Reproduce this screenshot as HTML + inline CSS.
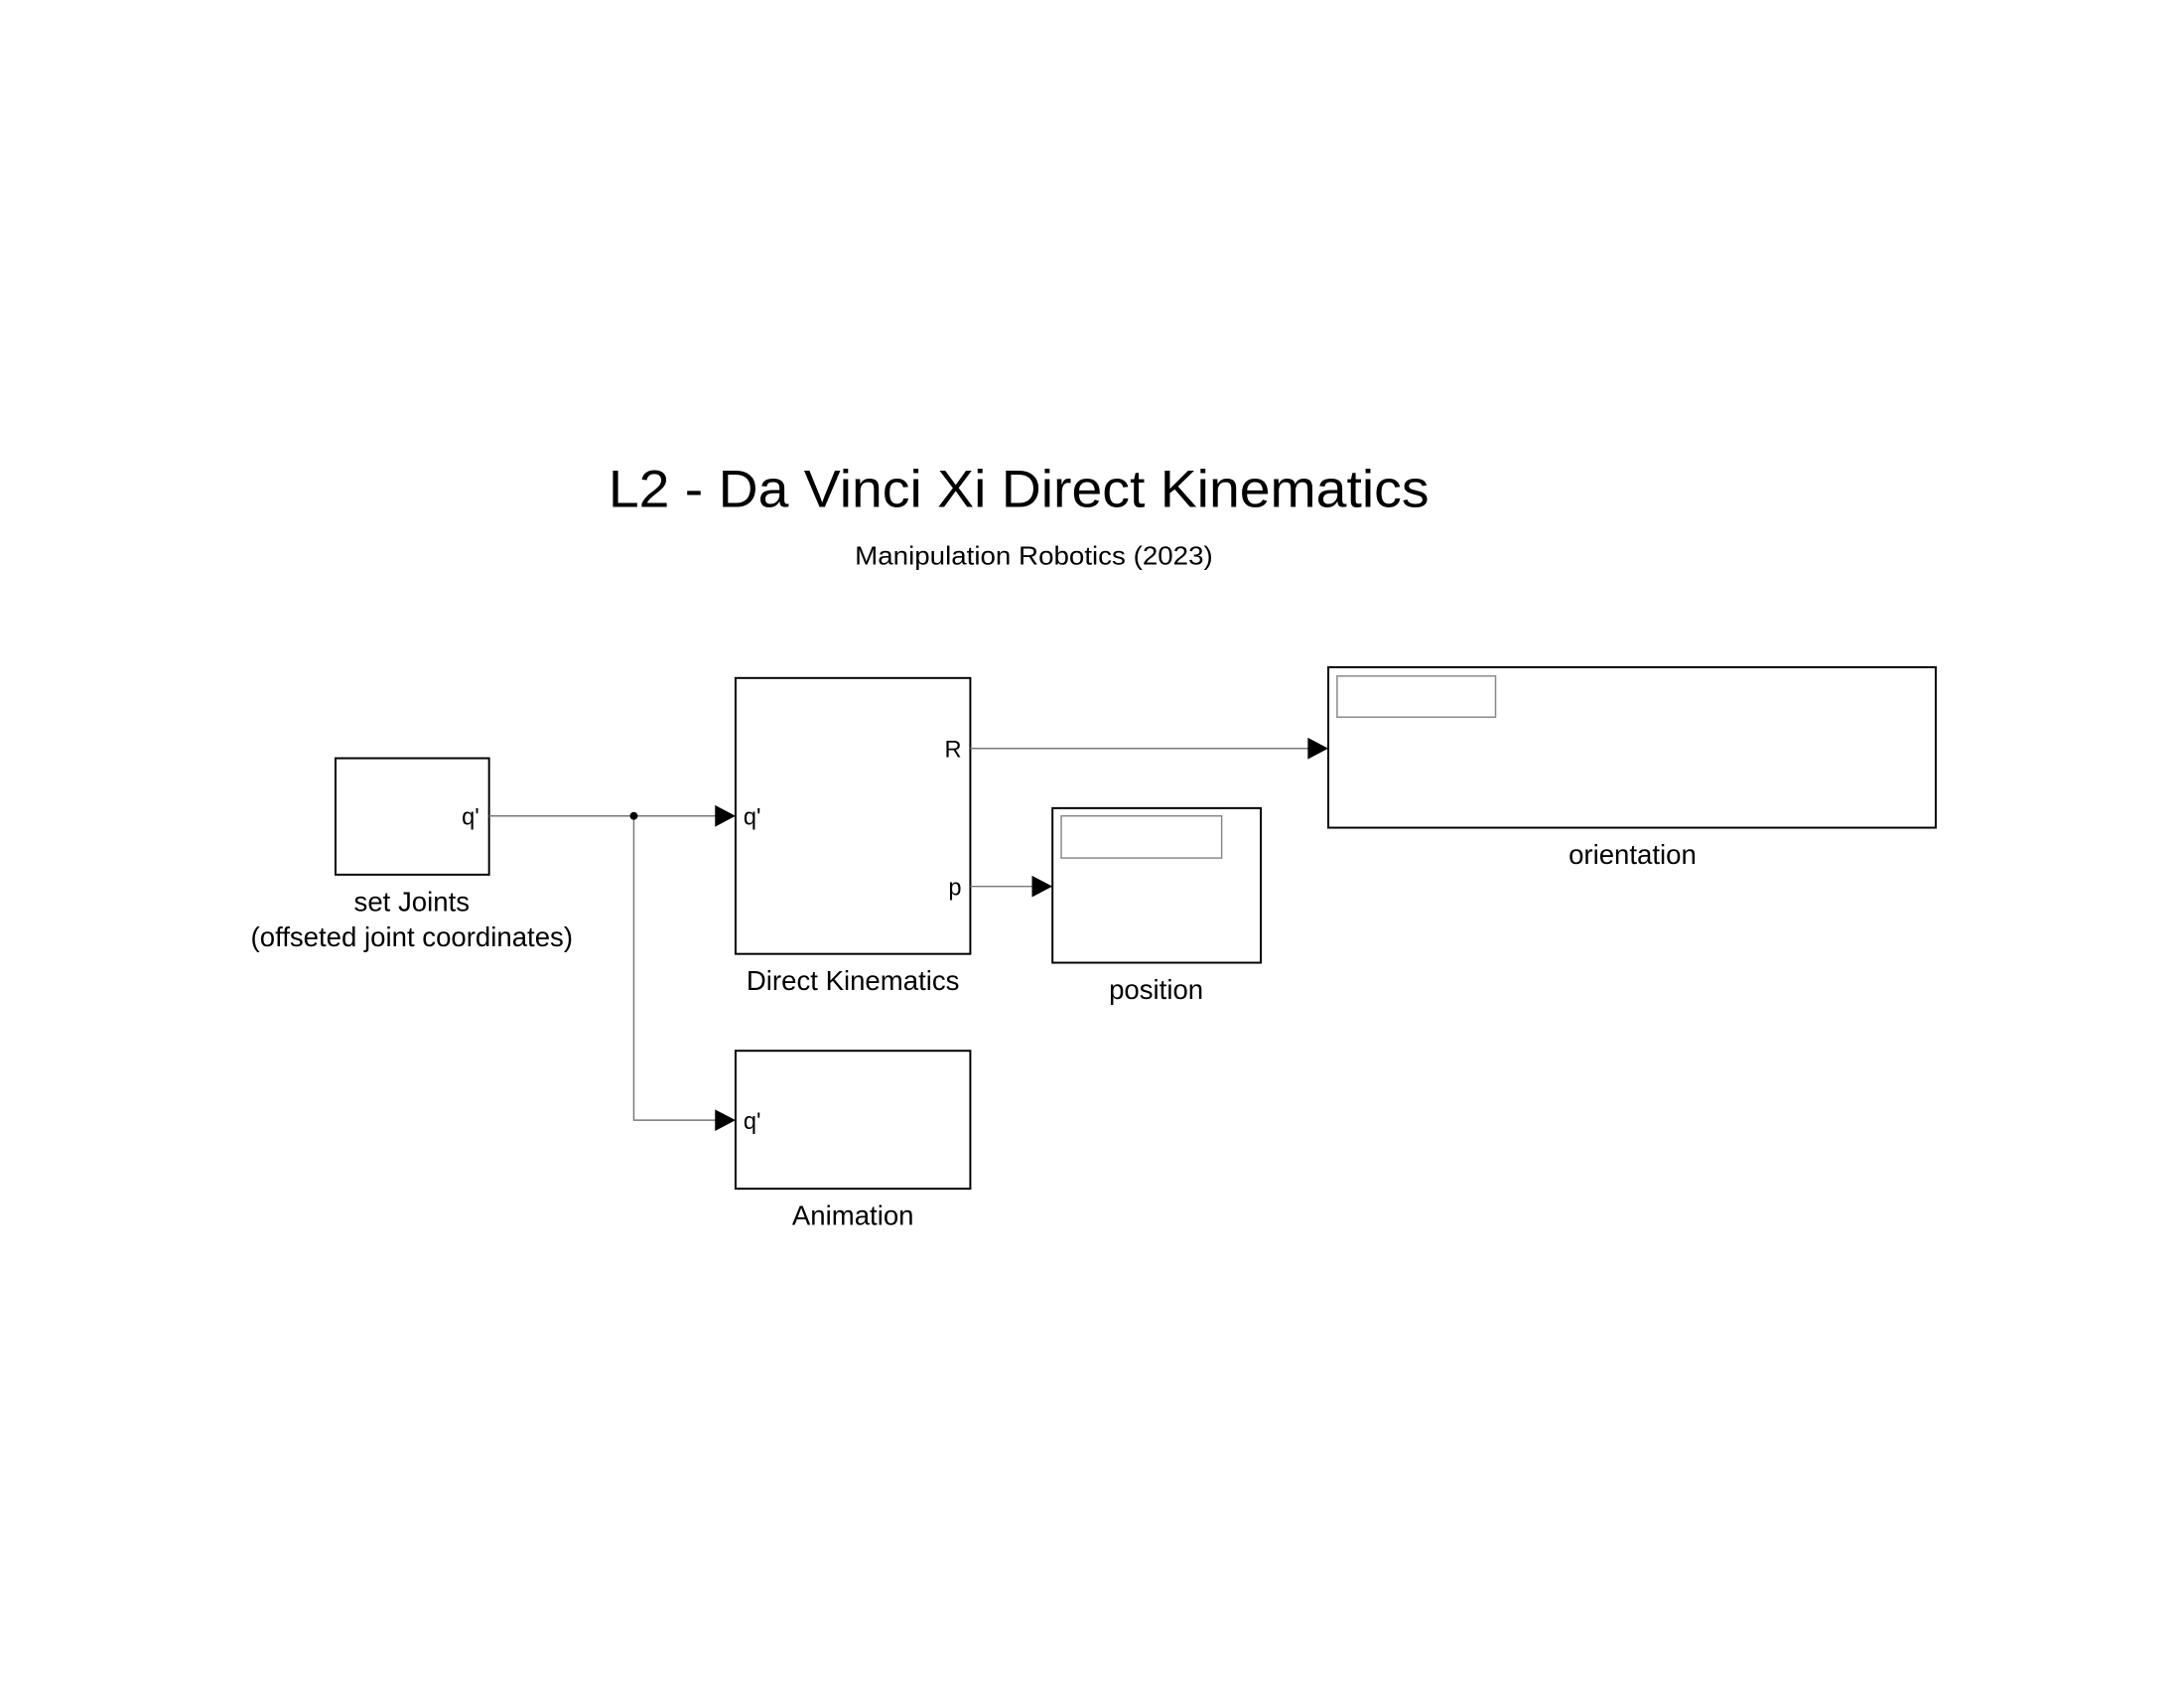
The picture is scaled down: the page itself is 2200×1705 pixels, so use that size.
<!DOCTYPE html>
<html><head><meta charset="utf-8"><style>html,body{margin:0;padding:0;background:#fff}</style></head>
<body>
<svg width="2200" height="1700" xmlns="http://www.w3.org/2000/svg" font-family="Liberation Sans, Arial, sans-serif">
<rect width="2200" height="1700" fill="#fff"/>
<g transform="scale(0.9853)">
<text x="622" y="518" font-size="54" textLength="839" lengthAdjust="spacingAndGlyphs">L2 - Da Vinci Xi Direct Kinematics</text>
<text x="874" y="577" font-size="26" textLength="366" lengthAdjust="spacingAndGlyphs">Manipulation Robotics (2023)</text>

<g fill="none" stroke="#000" stroke-width="2">
<rect x="343" y="775" width="157" height="119"/>
<rect x="752" y="693" width="240" height="282"/>
<rect x="1076" y="826" width="213" height="158"/>
<rect x="1358" y="682" width="621" height="164"/>
<rect x="752" y="1074" width="240" height="141"/>
</g>
<g fill="none" stroke="#888" stroke-width="1.5">
<rect x="1085" y="834" width="164" height="43"/>
<rect x="1367" y="691" width="162" height="42"/>
</g>
<g fill="none" stroke="#777" stroke-width="1.5">
<line x1="500" y1="834" x2="732" y2="834"/>
<polyline points="648,834 648,1145 732,1145"/>
<line x1="992" y1="765" x2="1338" y2="765"/>
<line x1="992" y1="906" x2="1056" y2="906"/>
</g>
<circle cx="648" cy="834" r="4" fill="#000"/>
<g fill="#000">
<polygon points="731,823 752,834 731,845"/>
<polygon points="731,1134 752,1145 731,1156"/>
<polygon points="1337,754 1358,765 1337,776"/>
<polygon points="1055,895 1076,906 1055,917"/>
</g>
<g font-size="24">
<text x="490" y="843" text-anchor="end">q'</text>
<text x="760" y="843">q'</text>
<text x="760" y="1154">q'</text>
<text x="983" y="774" text-anchor="end">R</text>
<text x="983" y="915" text-anchor="end">p</text>
</g>
<g font-size="28" text-anchor="middle">
<text x="421" y="931">set Joints</text>
<text x="421" y="967">(offseted joint coordinates)</text>
<text x="872" y="1012">Direct Kinematics</text>
<text x="1182" y="1021">position</text>
<text x="1669" y="883">orientation</text>
<text x="872" y="1252">Animation</text>
</g>
</g>
</svg>
</body></html>
